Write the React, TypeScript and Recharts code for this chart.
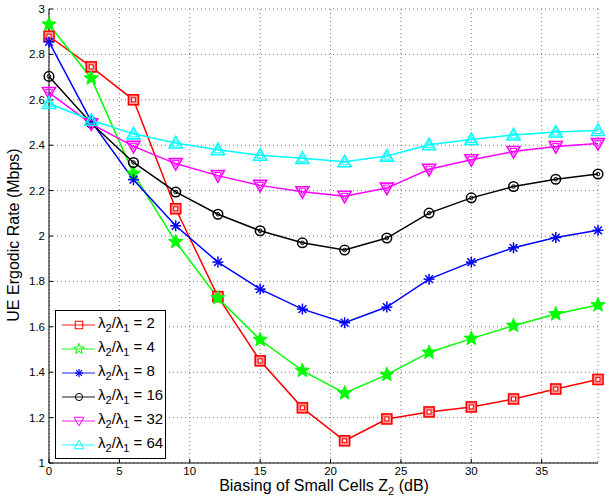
import React from 'react';
import { LineChart, Line, XAxis, YAxis, CartesianGrid, Legend } from 'recharts';

const biasDb = [0, 3, 6, 9, 12, 15, 18, 21, 24, 27, 30, 33, 36, 39];
const rateRatio2 = [2.88, 2.745, 2.60, 2.12, 1.733, 1.45, 1.243, 1.098, 1.194, 1.225, 1.247, 1.282, 1.326, 1.368];
const rateRatio4 = [2.932, 2.695, 2.275, 1.974, 1.727, 1.543, 1.407, 1.308, 1.389, 1.487, 1.548, 1.605, 1.656, 1.696];
const rateRatio8 = [2.855, 2.505, 2.248, 2.045, 1.885, 1.766, 1.678, 1.618, 1.687, 1.81, 1.885, 1.948, 1.993, 2.025];
const rateRatio16 = [2.703, 2.497, 2.324, 2.194, 2.096, 2.023, 1.97, 1.938, 1.991, 2.101, 2.168, 2.218, 2.25, 2.273];
const rateRatio32 = [2.632, 2.494, 2.395, 2.319, 2.266, 2.223, 2.195, 2.175, 2.211, 2.294, 2.336, 2.372, 2.394, 2.407];
const rateRatio64 = [2.584, 2.51, 2.45, 2.41, 2.38, 2.356, 2.342, 2.327, 2.352, 2.402, 2.425, 2.445, 2.458, 2.465];

const xTicks = [0, 5, 10, 15, 20, 25, 30, 35];
const yTicks = [1, 1.2, 1.4, 1.6, 1.8, 2, 2.2, 2.4, 2.6, 2.8, 3];

const series = [
  { key: 'r2', ratio: '2', color: '#ff0000', shape: 'square', values: rateRatio2 },
  { key: 'r4', ratio: '4', color: '#00ff00', shape: 'star', values: rateRatio4 },
  { key: 'r8', ratio: '8', color: '#0000ff', shape: 'asterisk', values: rateRatio8 },
  { key: 'r16', ratio: '16', color: '#000000', shape: 'circle', values: rateRatio16 },
  { key: 'r32', ratio: '32', color: '#ff00ff', shape: 'down', values: rateRatio32 },
  { key: 'r64', ratio: '64', color: '#00ffff', shape: 'up', values: rateRatio64 },
];

const data = biasDb.map((x, i) => {
  const row: any = { x };
  series.forEach(s => { row[s.key] = s.values[i]; });
  return row;
});

const FONT = '"Liberation Sans", Arial, Helvetica, sans-serif';

const starPoints = (cx: number, cy: number, ro: number, ri: number) => {
  const pts: string[] = [];
  for (let i = 0; i < 10; i++) {
    const r = i % 2 === 0 ? ro : ri;
    const a = -Math.PI / 2 + (i * Math.PI) / 5;
    pts.push(`${cx + r * Math.cos(a)},${cy + r * Math.sin(a)}`);
  }
  return pts.join(' ');
};

// plot markers are drawn "doubled" like the matlab export; legend ones are plain outlines
const Marker = ({ shape, cx, cy, color, k = 1, plain = false }: any) => {
  if (cx == null || cy == null) return null;
  switch (shape) {
    case 'square':
      return (
        <g>
          <rect x={cx - 5 * k} y={cy - 5 * k} width={10 * k} height={10 * k} fill={plain ? 'none' : '#ff9999'} stroke={color} strokeWidth={plain ? 1 : 1.6} />
          {!plain && <rect x={cx - 2 * k} y={cy - 2 * k} width={4 * k} height={4 * k} fill="#fff" stroke={color} strokeWidth={1} />}
        </g>
      );
    case 'star':
      return <polygon points={starPoints(cx, cy, 7.5 * k, 3.2 * k)} fill={plain ? 'none' : color} stroke={color} strokeWidth={1} />;
    case 'asterisk': {
      const r = 5.5 * k;
      const d = r * 0.707;
      return (
        <g stroke={color} strokeWidth={plain ? 1.2 : 1.5}>
          <line x1={cx - r} y1={cy} x2={cx + r} y2={cy} />
          <line x1={cx} y1={cy - r} x2={cx} y2={cy + r} />
          <line x1={cx - d} y1={cy - d} x2={cx + d} y2={cy + d} />
          <line x1={cx - d} y1={cy + d} x2={cx + d} y2={cy - d} />
        </g>
      );
    }
    case 'circle':
      return (
        <g fill="none" stroke={color}>
          <circle cx={cx} cy={cy} r={4.8 * k} strokeWidth={plain ? 1 : 1.5} />
          {!plain && <circle cx={cx} cy={cy} r={1.8 * k} strokeWidth={1} />}
        </g>
      );
    case 'down':
      return (
        <g fill="none" stroke={color}>
          <polygon points={`${cx - 6.5 * k},${cy - 5 * k} ${cx + 6.5 * k},${cy - 5 * k} ${cx},${cy + 6.5 * k}`} strokeWidth={plain ? 1 : 1.6} />
          {!plain && <polygon points={`${cx - 3.5 * k},${cy - 3 * k} ${cx + 3.5 * k},${cy - 3 * k} ${cx},${cy + 3 * k}`} strokeWidth={1} />}
        </g>
      );
    case 'up':
      return (
        <g fill="none" stroke={color}>
          <polygon points={`${cx - 6.5 * k},${cy + 5 * k} ${cx + 6.5 * k},${cy + 5 * k} ${cx},${cy - 6.5 * k}`} strokeWidth={plain ? 1 : 1.6} />
          {!plain && <polygon points={`${cx - 3.5 * k},${cy + 3 * k} ${cx + 3.5 * k},${cy + 3 * k} ${cx},${cy - 3 * k}`} strokeWidth={1} />}
        </g>
      );
    default:
      return null;
  }
};

const subStyle: React.CSSProperties = { fontSize: 11, verticalAlign: -4, lineHeight: 0 };

const LegendBox = () => (
  <div
    style={{
      border: '1.5px solid #000',
      background: '#fff',
      padding: '1px 0 2px 0',
      width: 109,
      fontFamily: FONT,
      fontSize: 15,
      color: '#000',
    }}
  >
    {series.map(s => (
      <div key={s.key} style={{ display: 'flex', alignItems: 'center', height: 24 }}>
        <svg width={40} height={24} style={{ flex: 'none' }}>
          <line x1={6} y1={13} x2={39} y2={13} stroke={s.color} strokeWidth={1.5} strokeOpacity={0.6} />
          <Marker shape={s.shape} cx={23} cy={13} color={s.color} k={0.75} plain />
        </svg>
        <span style={{ marginLeft: 2, whiteSpace: 'nowrap', lineHeight: '15px', position: 'relative', top: -2 }}>
          λ<sub style={subStyle}>2</sub>/λ<sub style={subStyle}>1</sub> = {s.ratio}
        </span>
      </div>
    ))}
  </div>
);

const App: React.FC = () => (
  <div style={{ position: 'absolute', left: 0, top: 0, width: 605, height: 501, background: '#fff' }}>
    <LineChart
      width={605}
      height={501}
      data={data}
      margin={{ top: 9, right: 7, bottom: 0, left: 0 }}
      style={{ fontFamily: FONT }}
    >
      <CartesianGrid stroke="#777" strokeDasharray="1 3" strokeWidth={1} />
      <XAxis
        dataKey="x"
        type="number"
        domain={[0, 39]}
        ticks={xTicks}
        height={38}
        stroke="#000"
        tickLine={{ stroke: '#000' }}
        tickSize={-4}
        tickMargin={8}
        tick={{ fill: '#000', fontSize: 11.5 }}
        axisLine={{ stroke: '#000', strokeWidth: 1 }}
        label={() => (
          <text x={324} y={491} textAnchor="middle" fontSize={16} fill="#000" fontFamily={FONT}>
            Biasing of Small Cells Z<tspan dy={4} fontSize={11}>2</tspan>
            <tspan dy={-4}> (dB)</tspan>
          </text>
        )}
      />
      <YAxis
        type="number"
        domain={[1, 3]}
        ticks={yTicks}
        width={49}
        stroke="#000"
        tickLine={{ stroke: '#000' }}
        tickSize={-4}
        tickMargin={8}
        tick={{ fill: '#000', fontSize: 11.5 }}
        axisLine={{ stroke: '#000', strokeWidth: 1 }}
        label={() => (
          <text x={15} y={235} transform="rotate(-90 15 235)" textAnchor="middle" dominantBaseline="middle" fontSize={16} fill="#000" fontFamily={FONT}>
            UE Ergodic Rate (Mbps)
          </text>
        )}
      />
      <Legend
        layout="horizontal"
        verticalAlign="middle"
        align="center"
        content={() => <LegendBox />}
        wrapperStyle={{ left: 55, top: 310, width: 112, height: 150 }}
      />
      {series.map(s => (
        <Line
          key={s.key}
          dataKey={s.key}
          type="linear"
          stroke={s.color}
          strokeWidth={1.5}
          isAnimationActive={false}
          dot={(p: any) => <Marker key={`${s.key}-${p.index}`} shape={s.shape} cx={p.cx} cy={p.cy} color={s.color} />}
          activeDot={false}
        />
      ))}
    </LineChart>
  </div>
);

export default App;
